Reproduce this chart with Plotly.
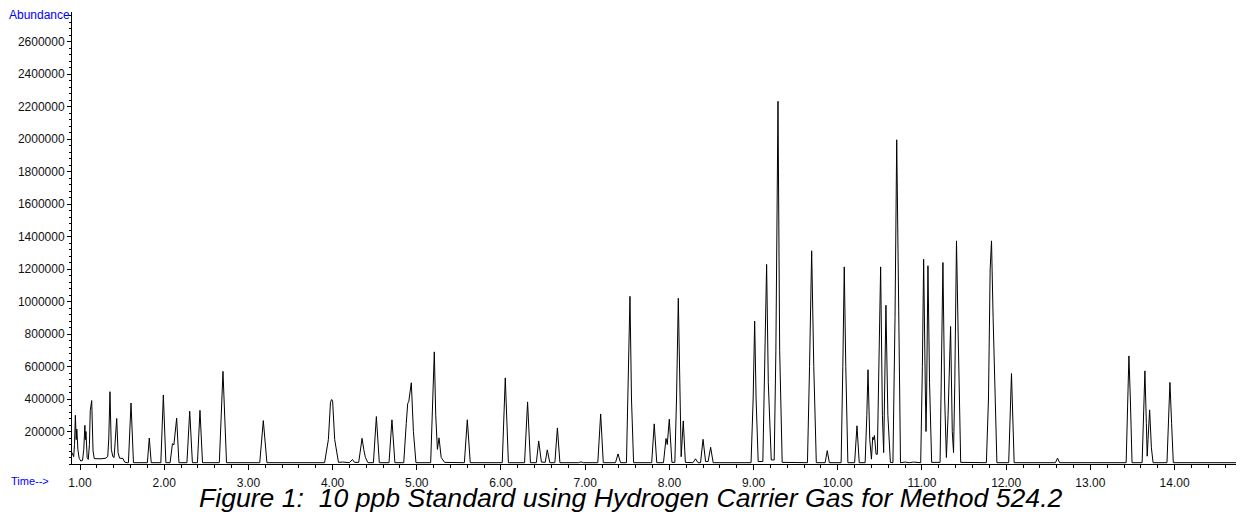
import plotly.graph_objects as go

# ---- Data (time in min, abundance in thousands) ----
seg_early = [
    (0.905, 70), (0.925, 45), (0.935, 120), (0.945, 300), (0.955, 150), (0.962, 215),
    (0.975, 90), (0.99, 35), (1.01, 18), (1.03, 22), (1.045, 90), (1.058, 238),
    (1.064, 150), (1.071, 200), (1.085, 40), (1.098, 28), (1.112, 120), (1.122, 330),
    (1.139, 390), (1.155, 80), (1.17, 33), (1.25, 32), (1.31, 36), (1.33, 48),
    (1.342, 160), (1.356, 445), (1.372, 90), (1.39, 45), (1.405, 40), (1.42, 150),
    (1.436, 280), (1.452, 70), (1.47, 36), (1.51, 34), (1.53, 12), (1.56, 8),
]
seg_2 = [
    (1.575, 8), (1.606, 375), (1.635, 8),
    (1.80, 8), (1.823, 160), (1.846, 8),
    (1.96, 8), (1.99, 425), (2.02, 8),
    (2.07, 8), (2.09, 100), (2.098, 125), (2.115, 118), (2.148, 282), (2.175, 8),
    (2.27, 8), (2.303, 325), (2.335, 8),
    (2.395, 8), (2.425, 330), (2.455, 8),
    (2.655, 8), (2.698, 570), (2.74, 8),
    (3.135, 8), (3.177, 267), (3.22, 8),
]
seg_3 = [
    (3.905, 8), (3.95, 150), (3.975, 380), (3.989, 397), (4.0, 390), (4.025, 150),
    (4.07, 10), (4.12, 12), (4.2, 8), (4.236, 28), (4.26, 10), (4.31, 10),
    (4.35, 158), (4.37, 90), (4.39, 40), (4.42, 8),
    (4.485, 8), (4.52, 292), (4.555, 8),
    (4.67, 8), (4.705, 272), (4.74, 8),
    (4.845, 8), (4.875, 250), (4.892, 372), (4.905, 385), (4.935, 500), (4.96, 200), (4.99, 8),
    (5.165, 8), (5.19, 400), (5.208, 690), (5.225, 300), (5.245, 90), (5.264, 161),
    (5.29, 40), (5.33, 10),
    (5.565, 8), (5.60, 272), (5.635, 8),
    (6.015, 8), (6.051, 530), (6.088, 8),
    (6.28, 8), (6.316, 382), (6.35, 8),
    (6.42, 8), (6.448, 142), (6.48, 12), (6.525, 10), (6.55, 87), (6.58, 8),
    (6.64, 8), (6.67, 222), (6.70, 8),
    (6.92, 8), (6.95, 13), (6.98, 8),
]
seg_4 = [
    (7.15, 8), (7.184, 308), (7.215, 8),
    (7.36, 8), (7.39, 62), (7.42, 8),
    (7.49, 8), (7.51, 500), (7.532, 1032), (7.55, 400), (7.575, 8),
    (7.79, 8), (7.82, 247), (7.85, 8),
    (7.93, 8), (7.96, 157), (7.975, 120), (7.999, 276), (8.03, 10), (8.065, 10),
    (8.085, 400), (8.106, 1020), (8.125, 300), (8.14, 45), (8.165, 265), (8.19, 10),
    (8.28, 8), (8.31, 32), (8.34, 8),
    (8.37, 8), (8.40, 152), (8.43, 15), (8.46, 15), (8.49, 103), (8.52, 8),
]
seg_5 = [
    (8.97, 8), (8.995, 400), (9.013, 880), (9.03, 400), (9.055, 15),
    (9.11, 15), (9.135, 700), (9.145, 975), (9.155, 1228), (9.175, 500), (9.21, 25),
    (9.245, 25), (9.265, 700), (9.29, 2232), (9.31, 700), (9.34, 10),
    (9.64, 8), (9.665, 600), (9.69, 1312), (9.715, 600), (9.745, 8),
    (9.85, 8), (9.875, 82), (9.90, 8),
    (10.04, 8), (10.06, 600), (10.077, 1213), (10.095, 600), (10.12, 8),
    (10.20, 8), (10.228, 235), (10.255, 8),
    (10.325, 8), (10.345, 300), (10.359, 580), (10.38, 150), (10.40, 30), (10.415, 165),
    (10.425, 150), (10.435, 175), (10.455, 60), (10.47, 60), (10.49, 600), (10.509, 1213),
    (10.53, 300), (10.545, 70), (10.555, 400), (10.572, 977), (10.595, 300), (10.625, 10),
    (10.655, 8), (10.68, 900), (10.70, 1995), (10.72, 900), (10.745, 8),
    (10.8, 12), (10.85, 8), (10.9, 12), (10.95, 8),
]
seg_6 = [
    (10.985, 8), (11.005, 600), (11.02, 1260), (11.04, 450), (11.048, 200), (11.055, 400),
    (11.071, 1220), (11.09, 500), (11.115, 10),
    (11.215, 10), (11.235, 600), (11.249, 1240), (11.27, 400), (11.29, 40), (11.31, 300),
    (11.34, 846), (11.36, 200), (11.375, 70), (11.39, 500), (11.41, 1373), (11.43, 800),
    (11.46, 10),
    (11.765, 8), (11.79, 400), (11.81, 1200), (11.826, 1373), (11.845, 900), (11.89, 8),
    (12.03, 8), (12.063, 557), (12.095, 8),
    (12.585, 8), (12.61, 36), (12.635, 8),
    (13.425, 8), (13.445, 400), (13.458, 665), (13.475, 400), (13.495, 8),
    (13.615, 8), (13.635, 350), (13.648, 573), (13.665, 250), (13.675, 48), (13.685, 150),
    (13.704, 333), (13.725, 100), (13.745, 8),
    (13.91, 8), (13.93, 300), (13.945, 502), (13.965, 250), (13.985, 8),
    (14.80, 8),
]

x_tick_vals = [1, 2, 3, 4, 5, 6, 7, 8, 9, 10, 11, 12, 13, 14]
x_tick_text = ["1.00", "2.00", "3.00", "4.00", "5.00", "6.00", "7.00",
               "8.00", "9.00", "10.00", "11.00", "12.00", "13.00", "14.00"]
y_tick_vals = [200000, 400000, 600000, 800000, 1000000, 1200000, 1400000,
               1600000, 1800000, 2000000, 2200000, 2400000, 2600000]
y_tick_text = [str(v) for v in y_tick_vals]

caption = "<i>Figure 1:&nbsp; 10 ppb Standard using Hydrogen Carrier Gas for Method 524.2</i>"

points = seg_early + seg_2 + seg_3 + seg_4 + seg_5 + seg_6
rt = [p[0] for p in points]
abundance = [p[1] * 1000 for p in points]

fig = go.Figure()
fig.add_trace(go.Scatter(
    x=rt, y=abundance, mode="lines",
    line=dict(color="#000000", width=1),
    hoverinfo="skip", showlegend=False,
))

tick_font = dict(family="Liberation Sans, Arial, sans-serif", size=12, color="#111111")

# the page body has an 8px margin, so the figure is 8px smaller and its margins compensate
fig.update_layout(
    width=1236, height=507,
    margin=dict(l=64, r=2, t=4, b=51),
    paper_bgcolor="white", plot_bgcolor="white",
    showlegend=False,
    xaxis=dict(
        range=[0.905, 14.801], showgrid=False, zeroline=False, automargin=False,
        showline=True, linecolor="#000000", linewidth=1,
        ticks="outside", ticklen=5, tickcolor="#000000", tickwidth=1,
        tickmode="array", tickvals=x_tick_vals, ticktext=x_tick_text,
        tickfont=tick_font, ticklabelstandoff=3,
        minor=dict(tickmode="linear", tick0=0, dtick=0.2, ticks="outside",
                   ticklen=3, tickcolor="#000000", tickwidth=1),
    ),
    yaxis=dict(
        range=[0, 2781538], showgrid=False, zeroline=False, automargin=False,
        showline=True, linecolor="#000000", linewidth=1,
        ticks="outside", ticklen=4, tickcolor="#000000", tickwidth=1,
        tickmode="array", tickvals=y_tick_vals, ticktext=y_tick_text,
        tickfont=tick_font,
        minor=dict(tickmode="linear", tick0=0, dtick=40000, ticks="outside",
                   ticklen=2, tickcolor="#000000", tickwidth=1),
    ),
    annotations=[
        dict(text="Abundance", xref="paper", yref="paper", x=0, y=1,
             xanchor="right", yanchor="middle", yshift=-3, showarrow=False,
             font=dict(family="Liberation Sans, Arial, sans-serif", size=12, color="#0000FF")),
        dict(text="Time-->", xref="paper", yref="paper", x=0, y=0,
             xanchor="left", yanchor="middle", xshift=-63, yshift=-17, showarrow=False,
             font=dict(family="Liberation Sans, Arial, sans-serif", size=11, color="#0000FF")),
        dict(text=caption, xref="paper", yref="paper", x=0.478, y=0,
             xanchor="center", yanchor="middle", yshift=-34, showarrow=False,
             font=dict(family="Liberation Sans, Arial, sans-serif", size=26.6, color="#000000")),
    ],
)

fig.write_html("out.html")
